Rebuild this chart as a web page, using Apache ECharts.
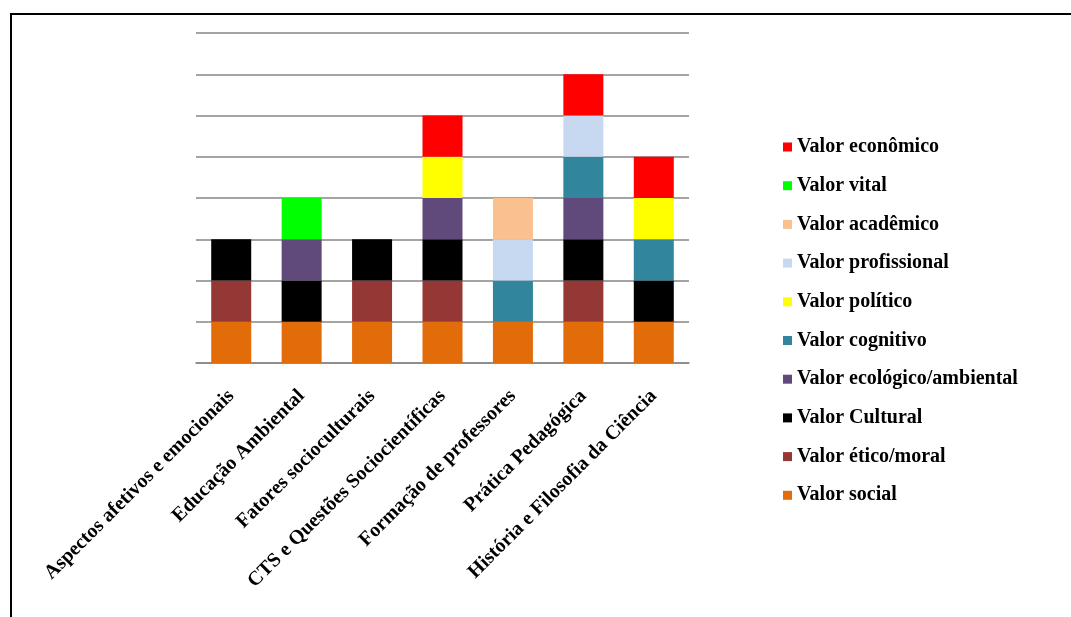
<!DOCTYPE html>
<html>
<head>
<meta charset="utf-8">
<script src="https://cdn.jsdelivr.net/npm/echarts@6/dist/echarts.min.js"></script>
<style>html,body{margin:0;padding:0;background:#fff}#c{width:1071px;height:617px}</style>
</head>
<body>
<div id="c"></div>
<script>
const categories = ['Aspectos afetivos e emocionais','Educação Ambiental','Fatores socioculturais','CTS e Questões Sociocientíficas','Formação de professores','Prática Pedagógica','História e Filosofia da Ciência'];
// series in stacking order (bottom to top); null = absent
const valorSocial      = [1, 1, 1, 1, 1, 1, 1];
const valorEtico       = [1, null, 1, 1, null, 1, null];
const valorCultural    = [1, 1, 1, 1, null, 1, 1];
const valorEcologico   = [null, 1, null, 1, null, 1, null];
const valorCognitivo   = [null, null, null, null, 1, 1, 1];
const valorPolitico    = [null, null, null, 1, null, null, 1];
const valorProfissional= [null, null, null, null, 1, 1, null];
const valorAcademico   = [null, null, null, null, 1, null, null];
const valorVital       = [null, 1, null, null, null, null, null];
const valorEconomico   = [null, null, null, 1, null, 1, 1];
const seriesNames = ['Valor social','Valor ético/moral','Valor Cultural','Valor ecológico/ambiental','Valor cognitivo','Valor político','Valor profissional','Valor acadêmico','Valor vital','Valor econômico'];
const seriesData = [valorSocial, valorEtico, valorCultural, valorEcologico, valorCognitivo, valorPolitico, valorProfissional, valorAcademico, valorVital, valorEconomico];
const colors = ['#E36C0A','#953735','#000000','#604A7B','#31859C','#FFFF00','#C6D9F1','#FAC090','#00FF00','#FF0000'];

const font = '"Liberation Serif","Times New Roman",serif';
const chart = echarts.init(document.getElementById('c'));
chart.setOption({
  animation: false,
  backgroundColor: '#fff',
  graphic: [{type:'rect', shape:{x:11, y:14, width:1200, height:800}, style:{fill:'none', stroke:'#000', lineWidth:2}}],
  grid: {left:196, right:382, top:33, bottom:254},
  legend: {
    orient: 'vertical', left: 778, top: 132,
    data: seriesNames.slice().reverse(),
    icon: 'rect', itemWidth: 9, itemHeight: 9, itemGap: 18.7,
    textStyle: {fontFamily: font, fontWeight: 'bold', fontSize: 20, color: '#000', lineHeight: 20, padding:[0,0,0,0]}
  },
  xAxis: {
    type: 'category', data: categories,
    axisLine: {lineStyle: {color: '#868686', width: 1.5}},
    axisTick: {show: false},
    axisLabel: {rotate: 45, interval: 0, margin: 30, fontFamily: font, fontWeight: 'bold', fontSize: 20, color: '#000'}
  },
  yAxis: {
    type: 'value', min: 0, max: 8, interval: 1,
    axisLabel: {show: false}, axisLine: {show: false}, axisTick: {show: false},
    splitLine: {lineStyle: {color: '#868686', width: 1.5}}
  },
  series: seriesNames.map((n, i) => ({
    name: n, type: 'bar', stack: 'total', barWidth: 40,
    itemStyle: {color: colors[i]},
    data: seriesData[i]
  }))
});
</script>
</body>
</html>
